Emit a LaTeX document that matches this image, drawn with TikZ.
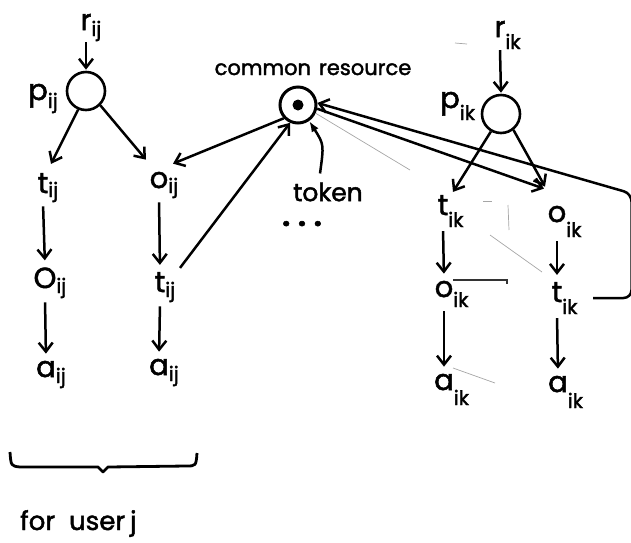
\documentclass[tikz,border=0pt]{standalone}
\usepackage{fontspec}
\setmainfont{Poppins}[FakeBold=1.8]
\usetikzlibrary{arrows.meta}
\newcommand\sbs[2]{\rlap{\raisebox{-#1}{\fontsize{20}{20}\selectfont #2}}}
\begin{document}
\begin{tikzpicture}[x=1pt,y=-1pt,
  lab/.style={inner sep=1pt, font=\fontsize{29}{29}\selectfont, anchor=base},
  txt/.style={inner sep=0pt},
  place/.style={circle, draw, line width=2.6pt, minimum size=38pt, inner sep=0pt},
  arr/.style={line width=2.5pt, -{Straight Barb[length=9pt,width=14pt]}},
  vert/.style={arr, shorten <=3pt, shorten >=6pt},
  faint/.style={gray!70, line width=0.7pt}
]
\useasboundingbox (0,0) rectangle (631,542);

% left user j
\node[lab] (rij) at (86,30) {r\sbs{6pt}{ij}};
\node[place] (pij) at (86,91) {};
\node[lab] (pijl) at (38,100) {p\sbs{8pt}{ij}};
\node[lab] (tij1) at (43,193) {t\sbs{4pt}{ij}};
\node[lab] (oij1) at (159,188) {o\sbs{5pt}{ij}};
\node[lab] (Oij2) at (45,288) {O\sbs{5pt}{ij}};
\node[lab] (tij2) at (160,292) {t\sbs{5pt}{ij}};
\node[lab] (aij1) at (46,377) {a\sbs{6pt}{ij}};
\node[lab] (aij2) at (159,375) {a\sbs{6pt}{ij}};

% common resource
\node[place, line width=3pt, minimum size=36pt] (cr) at (298,105) {};
\fill (cr.center) circle (5.5);
\node[txt, font=\fontsize{21}{21}\selectfont, anchor=base] (crl) at (313,75) {common\hspace{8pt}resource};
\node[txt, font=\fontsize{25}{25}\selectfont] (token) at (328,192) {token};
\node[txt, font=\fontsize{28}{28}\selectfont\bfseries, anchor=base] (dots) at (302,226) {. . .};

% right user k
\node[lab] (rik) at (500,37) {r\sbs{12pt}{ik}};
\node[place] (pik) at (501,114) {};
\node[lab] (pikl) at (450,108) {p\sbs{12pt}{ik}};
\node[lab] (tik1) at (443,215) {t\sbs{12pt}{ik}};
\node[lab] (oik1) at (557,222) {o\sbs{15pt}{ik}};
\node[lab] (Oik2) at (444,297) {o\sbs{10pt}{ik}};
\node[lab] (tik2) at (557,302) {t\sbs{12pt}{ik}};
\node[lab] (aik1) at (444,390) {a\sbs{15pt}{ik}};
\node[lab] (aik2) at (558,392) {a\sbs{16pt}{ik}};

% arrows left
\draw[arr, shorten >=1pt] (rij.south) -- (pij.north);
\draw[arr] (pij.247) -- ([shift={(8,-8)}]tij1.north);
\draw[arr] (pij.315) -- ([shift={(-13,-11)}]oij1.north);
\draw[vert] (tij1.south) -- (Oij2.north);
\draw[vert] (Oij2.south) -- (aij1.north);
\draw[vert] (oij1.south) -- (tij2.north);
\draw[vert] (tij2.south) -- (aij2.north);
\draw[arr] (cr.223) -- ([shift={(14,-7)}]oij1.north);
\draw[arr] ([shift={(20,-3)}]tij2.north) -- (cr.246);

% token
\draw[line width=2.5pt, -{Latex[length=11pt,width=8pt]}] ([shift={(-8,-9)}]token.north) .. controls ([shift={(-4,-38)}]token.north) .. (cr.305);

% arrows right
\draw[arr, shorten >=1pt] (rik.south) -- (pik.north);
\draw[arr] (pik.240) -- ([shift={(10,-2)}]tik1.north);
\draw[arr] (pik.308) -- ([shift={(-12,-18)}]oik1.north);
\draw[arr] (cr.349) -- ([shift={(-13,-16)}]oik1.north);
\draw[vert] (tik1.south) -- (Oik2.north);
\draw[vert] (Oik2.south) -- (aik1.north);
\draw[vert] (oik1.south) -- (tik2.north);
\draw[vert] (tik2.south) -- (aik2.north);
\draw[arr, rounded corners=8pt] ([shift={(36,-4)}]tik2.base) -- (631.5,298) -- (631.5,193.5) -- (cr.6);

% faint traces
\draw[faint] (cr.335) -- (410,170);
\draw[faint] (483,201) -- (492,201);
\draw[faint] (508,205) -- (509,230);
\draw[faint] (490,235) -- (542,272);
\draw[gray!40!black, line width=1.2pt] (453,280) -- (507,280) -- (507,284);
\draw[faint] (453,368) -- (495,383);
\draw[faint] (455,43) -- (467,44);

% brace and caption
\draw[line width=2.8pt, line join=round] (10,452) .. controls (11,466) .. (20,467) -- (98,467) -- (103,472) -- (108,467) -- (186,466) .. controls (196,466) .. (197,453);
\node[txt, font=\fontsize{26}{26}\selectfont, anchor=base west] (user) at (20,530) {for\hspace{14pt}user\hspace{5pt}j};
\end{tikzpicture}
\end{document}
